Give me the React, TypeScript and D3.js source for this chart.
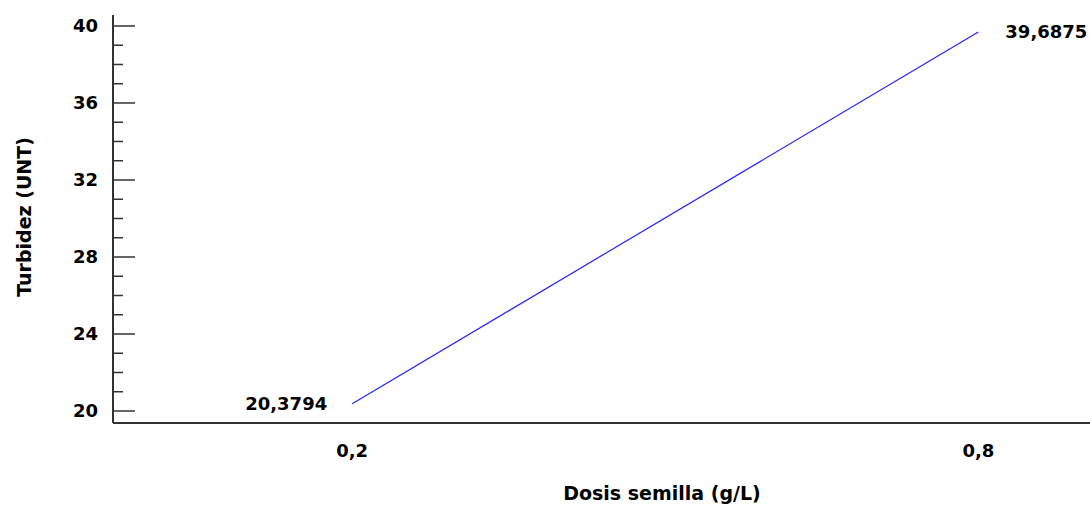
import React from "react";
import * as d3 from "d3";

const doses = [0.2, 0.8];
const turbidity = [20.3794, 39.6875];
const pointLabels = ["20,3794", "39,6875"];
const xTickValues = [0.2, 0.8];
const xTickLabels = ["0,2", "0,8"];
const yMajorTicks = [20, 24, 28, 32, 36, 40];
const yMinorTicks = d3.range(20, 41, 1);

const W = 1090;
const H = 505;
const FONT = "'DejaVu Sans', Verdana, sans-serif";

export default function App() {
  const x = d3.scaleLinear().domain([-0.0292, 0.907]).range([113, 1090]);
  const y = d3.scaleLinear().domain([19.377, 40.57]).range([423, 15]);
  const line = d3
    .line<number>()
    .x((_, i) => x(doses[i]))
    .y((d) => y(d));
  const [x0, x1] = x.range();
  const [yb, yt] = y.range();
  const axisColor = "#333";
  return (
    <svg
      width={W}
      height={H}
      style={{ position: "absolute", left: 0, top: 0, background: "#fff" }}
      fontFamily={FONT}
      fontWeight="bold"
    >
      {/* y axis */}
      <line x1={x0} x2={x0} y1={yt} y2={yb} stroke={axisColor} strokeWidth={2} />
      {yMinorTicks.map((t) => (
        <line
          key={"m" + t}
          x1={x0}
          x2={x0 + (t % 4 === 0 ? 22 : 10)}
          y1={y(t)}
          y2={y(t)}
          stroke={axisColor}
          strokeWidth={1.5}
        />
      ))}
      {yMajorTicks.map((t) => (
        <text key={"yl" + t} x={98} y={y(t)} dy="0.36em" textAnchor="end" fontSize={18} fill="#000">
          {t}
        </text>
      ))}
      {/* x axis */}
      <line x1={x0} x2={x1} y1={yb} y2={yb} stroke={axisColor} strokeWidth={2} />
      {xTickValues.map((t, i) => (
        <text key={"xl" + t} x={x(t)} y={457} textAnchor="middle" fontSize={18} fill="#000">
          {xTickLabels[i]}
        </text>
      ))}
      {/* titles */}
      <text x={662} y={500} textAnchor="middle" fontSize={19} fill="#000">
        Dosis semilla (g/L)
      </text>
      <text
        transform={`translate(31,${217}) rotate(-90)`}
        textAnchor="middle"
        fontSize={19}
        fill="#000"
      >
        Turbidez (UNT)
      </text>
      {/* line */}
      <path d={line(turbidity) || ""} fill="none" stroke="#2222ff" strokeWidth={1.2} />
      {/* point labels */}
      <text x={x(doses[0]) - 25} y={y(turbidity[0])} dy="0.36em" textAnchor="end" fontSize={18} fill="#000">
        {pointLabels[0]}
      </text>
      <text x={x(doses[1]) + 27} y={y(turbidity[1])} dy="0.36em" textAnchor="start" fontSize={18} fill="#000">
        {pointLabels[1]}
      </text>
    </svg>
  );
}
